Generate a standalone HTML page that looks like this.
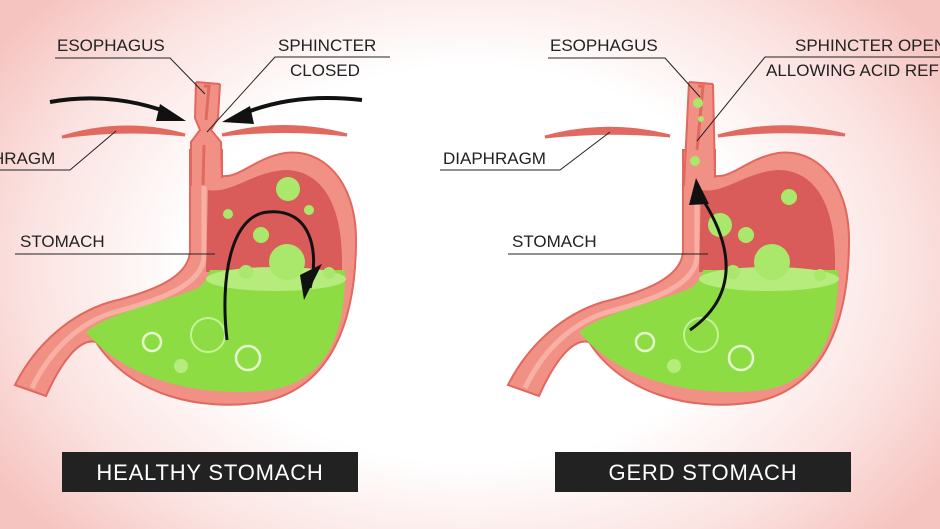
<!DOCTYPE html>
<html><head><meta charset="utf-8"><style>
html,body{margin:0;padding:0;width:940px;height:529px;overflow:hidden}
body{background:radial-gradient(ellipse 60% 75% at 50% 50%,#fff 0%,#fff 50%,#fbe3e1 78%,#f6c4c0 100%)}
svg{display:block}
text{font-family:"Liberation Sans",sans-serif;fill:#222}
</style></head><body>
<svg width="940" height="529" viewBox="0 0 940 529" xmlns="http://www.w3.org/2000/svg">
<defs>
<g id="stom">
  <path d="M190 150 L190 250 C190 278 150 292 110 302 C70 314 35 345 15 385 L46 396 C62 360 80 338 96 342 C130 395 200 412 262 402 C332 388 356 320 356 240 C356 180 322 148 285 153 C255 158 240 178 222 176 L222 150 Z" fill="#f19185" stroke="#e2675e" stroke-width="2"/>
  <path d="M204 175 L204 255 C204 285 160 300 115 312 C80 322 50 350 32 388" fill="none" stroke="#f7b0a3" stroke-width="5"/>
  <path d="M208 190 C232 194 252 172 285 170 C322 170 342 205 342 260 L342 272 L206 272 Z" fill="#d95c5a"/>
  <path d="M86 332 C110 312 165 302 198 288 C206 282 208 276 210 270 L345 270 C346 340 322 386 262 391 C200 396 128 382 86 332 Z" fill="#8ddc44"/>
  <ellipse cx="276" cy="279" rx="70" ry="12" fill="#b5ec7c"/>
  <circle cx="208" cy="335" r="17" fill="none" stroke="#c4f29a" stroke-width="2"/>
  <circle cx="152" cy="342" r="9" fill="none" stroke="#e6fbd0" stroke-width="2.5"/>
  <circle cx="248" cy="358" r="12" fill="none" stroke="#e6fbd0" stroke-width="2.5"/>
  <circle cx="181" cy="366" r="7" fill="#b5ec7c"/>
</g>
<g id="bubL" fill="#a9e86a">
  <circle cx="288" cy="189" r="12"/><circle cx="309" cy="210" r="5"/><circle cx="228" cy="214" r="5"/>
  <circle cx="261" cy="235" r="8"/><circle cx="287" cy="262" r="18"/><circle cx="246" cy="272" r="7"/><circle cx="329" cy="273" r="6"/>
</g>
</defs>
<!-- LEFT -->
<path d="M62 137 Q125 118 185 135 Q125 128 62 137Z" fill="#e06a60" stroke="#e06a60" stroke-width="3"/>
<path d="M222 135 Q285 118 347 135 Q285 128 222 135Z" fill="#e06a60" stroke="#e06a60" stroke-width="3"/>
<use href="#stom"/>
<path d="M196 82 L220 84 L218 118 L211 130 L221 142 L222 186 L191 186 L191 142 L200 130 L195 118 Z" fill="#f19185"/>
<path d="M196 82 L195 118 L200 130 L191 142 L191 186 M220 84 L218 118 L211 130 L221 142 L222 178" fill="none" stroke="#e2675e" stroke-width="2"/>
<path d="M196 82 L220 84" stroke="#e2675e" stroke-width="2"/>
<path d="M204 86 L209 86 L206 120 M204 145 L203 185" stroke="#e06a60" stroke-width="3" fill="none"/>
<use href="#bubL"/>
<path d="M227 340 C220 280 230 215 268 212 C310 208 320 250 310 288" fill="none" stroke="#111" stroke-width="3"/>
<path d="M300 275 L322 264 L304 300 Z" fill="#111"/>
<path d="M50 102 C100 93 140 102 170 113" fill="none" stroke="#111" stroke-width="4"/>
<path d="M160 104 L186 121 L156 121 Z" fill="#111"/>
<path d="M362 100 C310 94 270 102 240 115" fill="none" stroke="#111" stroke-width="4"/>
<path d="M250 106 L222 122 L254 124 Z" fill="#111"/>
<text x="57" y="51" font-size="17">ESOPHAGUS</text>
<path d="M55 58 L170 58 L205 94" stroke="#222" fill="none" stroke-width="1"/>
<text x="278" y="51" font-size="17">SPHINCTER</text>
<text x="290" y="76" font-size="17">CLOSED</text>
<path d="M390 57 L275 57 L207 132" stroke="#222" fill="none" stroke-width="1"/>
<text x="-8" y="164" font-size="17">HRAGM</text>
<path d="M0 170 L70 170 L116 131" stroke="#222" fill="none" stroke-width="1"/>
<text x="20" y="247" font-size="17">STOMACH</text>
<path d="M15 254 L215 254" stroke="#222" stroke-width="1"/>
<!-- RIGHT -->
<g transform="translate(493,0)">
<path d="M52 137 Q115 120 177 136 Q115 130 52 137Z" fill="#e06a60" stroke="#e06a60" stroke-width="3"/>
<path d="M225 136 Q288 118 352 135 Q288 128 225 136Z" fill="#e06a60" stroke="#e06a60" stroke-width="3"/>
<use href="#stom"/>
<path d="M196 82 L220 84 L222 186 L191 186 Z" fill="#f19185"/>
<path d="M196 82 L191 186 M220 84 L222 178 M196 82 L220 84" fill="none" stroke="#e2675e" stroke-width="2"/>
<path d="M205 86 L210 86 L204 150" stroke="#e06a60" stroke-width="3" fill="none"/>
<circle cx="205" cy="103" r="5" fill="#a9e86a"/><circle cx="208" cy="119" r="3" fill="#a9e86a"/><circle cx="202" cy="161" r="5" fill="#a9e86a"/>
<g fill="#a9e86a"><circle cx="296" cy="197" r="8"/><circle cx="227" cy="225" r="12"/><circle cx="253" cy="235" r="8"/><circle cx="279" cy="262" r="18"/><circle cx="240" cy="272" r="7"/><circle cx="327" cy="275" r="6"/></g>
<path d="M197 330 C240 300 245 255 210 200" fill="none" stroke="#111" stroke-width="3"/>
<path d="M196 205 L203 178 L216 204 Z" fill="#111"/>
</g>
<text x="550" y="51" font-size="17">ESOPHAGUS</text>
<path d="M548 58 L665 58 L700 97" stroke="#222" fill="none" stroke-width="1"/>
<text x="795" y="51" font-size="17">SPHINCTER  OPEN</text>
<text x="766" y="76" font-size="17">ALLOWING ACID REFLUX</text>
<path d="M940 57 L765 57 L697 141" stroke="#222" fill="none" stroke-width="1"/>
<text x="443" y="164" font-size="17">DIAPHRAGM</text>
<path d="M440 170 L560 170 L610 132" stroke="#222" fill="none" stroke-width="1"/>
<text x="512" y="247" font-size="17">STOMACH</text>
<path d="M508 254 L708 254" stroke="#222" stroke-width="1"/>
<rect x="62" y="452" width="296" height="40" fill="#222"/>
<text x="210" y="480" font-size="22" text-anchor="middle" style="fill:#fff" letter-spacing="0.8">HEALTHY  STOMACH</text>
<rect x="555" y="452" width="296" height="40" fill="#222"/>
<text x="703" y="480" font-size="22" text-anchor="middle" style="fill:#fff" letter-spacing="0.8">GERD  STOMACH</text>
</svg>
</body></html>
